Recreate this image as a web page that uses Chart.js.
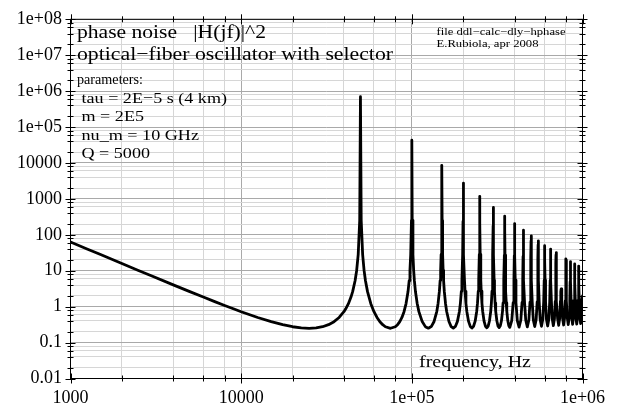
<!DOCTYPE html>
<html><head><meta charset="utf-8">
<script src="https://cdn.jsdelivr.net/npm/chart.js@4"></script>
<style>html,body{margin:0;padding:0;background:#fff}canvas{display:block}</style>
</head><body>
<canvas id="c" width="619" height="408"></canvas>
<script>
// ---- axis ticks ----
const xDecades = [1000, 10000, 100000, 1000000];
const xDecadeLabels = ['1000', '10000', '1e+05', '1e+06'];
const yDecades = [0.01, 0.1, 1, 10, 100, 1000, 10000, 1e5, 1e6, 1e7, 1e8];
const yDecadeLabels = ['0.01', '0.1', '1', '10', '100', '1000', '10000', '1e+05', '1e+06', '1e+07', '1e+08'];
const minorSteps = [2, 4, 6, 8];

// ---- |H(jf)|^2 ----
const baseFreq = [1000, 1250, 1500, 2000, 2500, 3000, 4000, 5000, 6000, 7000, 8000, 9000, 10000, 12500, 15000, 17500, 20000, 22500, 25000, 27500, 30000, 32500, 35000, 37500, 40000, 41000, 42500, 44000, 45000, 46500, 47500, 48500, 49500];
const baseH = [63.3, 40.5, 28.2, 15.9, 10.2, 7.12, 4.04, 2.62, 1.85, 1.38, 1.08, 0.871, 0.724, 0.5, 0.382, 0.315, 0.276, 0.256, 0.25, 0.256, 0.276, 0.315, 0.382, 0.5, 0.724, 0.871, 1.21, 1.85, 2.62, 5.25, 10.2, 28.2, 253];

const lowPeaksFreq = [
  50000, 50500, 51500, 52500, 53500, 55000, 57500, 60000, 62500, 65000, 67500, 70000, 75000,
  80000, 82500, 85000, 87500, 90000, 92500, 95000, 96500, 97500, 98500, 99500, 100000, 100500, 101500, 102500, 103500, 105000, 107500, 110000, 115000, 120000, 125000,
  130000, 135000, 140000, 142500, 145000, 146500, 147500, 148500, 149500, 150000, 150500, 151500, 152500, 153500, 155000, 157500, 160000, 165000, 170000, 175000,
  180000, 185000, 190000, 192500, 195000, 196500, 198500, 199500, 200000, 200500, 201500, 203500, 205000, 207500, 210000, 215000, 220000, 225000,
  230000, 235000, 240000, 242500, 245000, 246500, 248500, 249500, 250000, 250500, 251500, 253500, 255000, 257500, 260000, 265000, 270000, 275000,
  280000, 285000, 290000, 292500, 295000, 296500, 298500, 299500, 300000, 300500, 301500, 303500, 305000, 307500, 310000, 315000, 320000, 325000,
  330000, 335000, 340000, 342500, 345000, 346500, 348500, 349500, 350000, 350500, 351500, 353500, 355000, 357500, 360000, 365000, 370000, 375000
];
const lowPeaksH = [
  700000, 253, 28.2, 10.2, 5.25, 2.62, 1.21, 0.724, 0.5, 0.382, 0.315, 0.276, 0.25,
  0.276, 0.315, 0.382, 0.5, 0.726, 1.22, 2.63, 5.28, 10.2, 28.3, 253, 43000, 253, 28.3, 10.2, 5.28, 2.63, 1.22, 0.726, 0.384, 0.278, 0.252,
  0.279, 0.387, 0.731, 1.23, 2.65, 5.31, 10.3, 28.4, 248, 8600, 248, 28.4, 10.3, 5.31, 2.65, 1.23, 0.731, 0.387, 0.279, 0.253,
  0.282, 0.389, 0.738, 1.24, 2.67, 5.34, 28.4, 235, 2750, 235, 28.4, 5.34, 2.67, 1.24, 0.738, 0.389, 0.282, 0.255,
  0.285, 0.394, 0.746, 1.25, 2.69, 5.39, 28.3, 212, 1180, 212, 28.3, 5.39, 2.69, 1.25, 0.746, 0.394, 0.285, 0.258,
  0.288, 0.399, 0.754, 1.26, 2.72, 5.43, 28.0, 180, 580, 180, 28.0, 5.43, 2.72, 1.26, 0.754, 0.399, 0.288, 0.261,
  0.293, 0.404, 0.765, 1.28, 2.75, 5.47, 27.3, 145, 330, 145, 27.3, 5.47, 2.75, 1.28, 0.765, 0.404, 0.293, 0.265
];

const highPeaksFreq = [
  385000, 392500, 396500, 398500, 399500, 400000, 400500, 401500, 403500, 407500, 415000, 425000,
  435000, 442500, 446500, 448500, 449500, 450000, 450500, 451500, 453500, 457500, 465000, 475000,
  485000, 492500, 496500, 498500, 499500, 500000, 500500, 501500, 503500, 507500, 515000, 525000,
  535000, 542500, 546500, 548500, 549500, 550000, 550500, 551500, 553500, 557500, 565000, 575000,
  585000, 592500, 596500, 598500, 599500, 600000, 600500, 601500, 603500, 607500, 615000, 625000,
  635000, 642500, 646500, 648500, 649500, 650000, 650500, 651500, 653500, 657500, 665000, 675000,
  685000, 692500, 696500, 698500, 699500, 700000, 700500, 701500, 703500, 707500, 715000, 725000,
  735000, 742500, 746000, 750000, 754000, 757500, 765000, 775000,
  785000, 792500, 796500, 798500, 799500, 800000, 800500, 801500, 803500, 807500, 815000, 825000,
  835000, 842500, 846500, 848500, 849500, 850000, 850500, 851500, 853500, 857500, 865000, 875000,
  885000, 892500, 896500, 898500, 899500, 900000, 900500, 901500, 903500, 907500, 915000, 925000,
  935000, 942500, 946500, 948500, 949500, 950000, 950500, 951500, 953500, 957500, 965000, 975000,
  985000, 992500, 1000000
];
const highPeaksH = [
  0.41, 1.30, 5.50, 26.3, 114, 205, 114, 26.3, 5.50, 1.30, 0.41, 0.269,
  0.418, 1.32, 5.51, 25.0, 88, 135, 88, 25.0, 5.51, 1.32, 0.418, 0.274,
  0.425, 1.34, 5.51, 23.3, 68, 94, 68, 23.3, 5.51, 1.34, 0.425, 0.279,
  0.433, 1.36, 5.49, 21.6, 53, 68, 53, 21.6, 5.49, 1.36, 0.433, 0.284,
  0.44, 1.38, 5.45, 19.7, 42, 50, 42, 19.7, 5.45, 1.38, 0.44, 0.29,
  0.45, 1.39, 5.39, 17.9, 34, 40, 34, 17.9, 5.39, 1.39, 0.45, 0.296,
  0.459, 1.41, 5.3, 16.2, 27.8, 32, 27.8, 16.2, 5.3, 1.41, 0.459, 0.302,
  0.469, 1.43, 2.6, 3.1, 2.6, 1.43, 0.469, 0.309,
  0.478, 1.45, 5.09, 13.2, 19.6, 21.5, 19.6, 13.2, 5.09, 1.45, 0.478, 0.315,
  0.487, 1.46, 4.96, 11.9, 16.7, 18, 16.7, 11.9, 4.96, 1.46, 0.487, 0.322,
  0.497, 1.47, 4.82, 10.8, 14.5, 15.5, 14.5, 10.8, 4.82, 1.47, 0.497, 0.329,
  0.507, 1.49, 4.68, 9.87, 12.7, 13.5, 12.7, 9.87, 4.68, 1.49, 0.507, 0.336,
  0.517, 1.5, 2.0
];

// ---- annotation texts ----
const titleLines = ['phase noise   |H(jf)|^2', 'optical\u2212fiber oscillator with selector'];
const paramLines = ['parameters:', ' tau = 2E\u22125 s (4 km)', ' m = 2E5', ' nu_m = 10 GHz', ' Q = 5000'];
const fileLines = ['file ddl\u2212calc\u2212dly\u2212hphase', 'E.Rubiola, apr 2008'];
const xAxisTitle = 'frequency, Hz';

// ---- build ----
const freq = baseFreq.concat(lowPeaksFreq, highPeaksFreq);
const mag = baseH.concat(lowPeaksH, highPeaksH);
const points = freq.map((f, i) => ({ x: f, y: mag[i] }));

function withMinor(decades, steps, maxV) {
  const out = [];
  decades.forEach(d => { out.push(d); steps.forEach(s => { if (d * s < maxV) out.push(d * s); }); });
  return out;
}
const xTicks = withMinor(xDecades, minorSteps, 1e6);
const yTicks = withMinor(yDecades, minorSteps, 1e8);
function decadeIndex(v, decades) { return decades.findIndex(d => Math.abs(d - v) / d < 1e-9); }

const SERIF = '"Liberation Serif", "Times New Roman", serif';
const MAJOR_GRID = '#a9a9a9', MINOR_GRID = '#d6d6d6';

function fitText(ctx, text, x, y, size, targetW) {
  ctx.font = size + 'px ' + SERIF;
  const w = ctx.measureText(text).width;
  ctx.save();
  ctx.translate(x, y);
  ctx.scale(targetW / w, 1);
  ctx.fillText(text, 0, 0);
  ctx.restore();
}

const decor = {
  id: 'decor',
  afterDraw(chart) {
    const ctx = chart.ctx, a = chart.chartArea;
    const xs = chart.scales.x, ys = chart.scales.y;
    ctx.save();
    ctx.strokeStyle = '#000';
    ctx.lineWidth = 1;
    ctx.beginPath();
    xTicks.forEach(v => {
      const p = Math.round(xs.getPixelForValue(v)) + 0.5;
      const L = decadeIndex(v, xDecades) >= 0 ? 5 : 3;
      ctx.moveTo(p, a.bottom - L); ctx.lineTo(p, a.bottom + L);
      ctx.moveTo(p, a.top - L); ctx.lineTo(p, a.top + L);
    });
    yTicks.forEach(v => {
      const p = Math.round(ys.getPixelForValue(v)) + 0.5;
      const L = decadeIndex(v, yDecades) >= 0 ? 5 : 3;
      ctx.moveTo(a.left - L, p); ctx.lineTo(a.left + L, p);
      ctx.moveTo(a.right - L, p); ctx.lineTo(a.right + L, p);
    });
    ctx.stroke();
    ctx.strokeRect(a.left, a.top, a.right - a.left, a.bottom - a.top);

    ctx.fillStyle = '#000';
    ctx.textBaseline = 'alphabetic';
    ctx.textAlign = 'left';
    fitText(ctx, titleLines[0], 77, 38, 19, 189);
    fitText(ctx, titleLines[1], 77, 60, 19, 316);
    const pW = [66, 150, 67, 122, 73];
    const pY = [84.3, 102.8, 121.3, 139.8, 158.3];
    paramLines.forEach((t, i) => fitText(ctx, t, 77, pY[i], 15.5, pW[i]));
    fitText(ctx, fileLines[0], 436.5, 34.5, 11, 129);
    fitText(ctx, fileLines[1], 436.5, 46.5, 11, 102);
    fitText(ctx, xAxisTitle, 419, 367, 17, 112);
    ctx.restore();
  }
};

new Chart(document.getElementById('c'), {
  type: 'scatter',
  data: { datasets: [{
    data: points, showLine: true, borderColor: '#000', backgroundColor: '#000',
    borderWidth: 2.8, pointRadius: 0, tension: 0, fill: false,
    borderJoinStyle: 'round', borderCapStyle: 'round'
  }] },
  options: {
    responsive: false, animation: false, devicePixelRatio: 1, events: [],
    layout: { padding: { top: 14.5, right: 36.5, left: 0, bottom: 0 } },
    plugins: { legend: { display: false }, tooltip: { enabled: false } },
    scales: {
      x: {
        type: 'logarithmic', min: 1000, max: 1e6,
        afterBuildTicks: s => { s.ticks = xTicks.map(v => ({ value: v })); },
        afterFit: s => { s.height = 29.5; },
        border: { display: false },
        grid: { drawTicks: false, lineWidth: 1,
          color: c => (c.tick && decadeIndex(c.tick.value, xDecades) >= 0) ? MAJOR_GRID : MINOR_GRID },
        ticks: { autoSkip: false, maxRotation: 0, minRotation: 0, padding: 8.5, color: '#000',
          font: { family: SERIF, size: 18 },
          callback: v => { const i = decadeIndex(v, xDecades); return i >= 0 ? xDecadeLabels[i] : ''; } }
      },
      y: {
        type: 'logarithmic', min: 0.01, max: 1e8,
        afterBuildTicks: s => { s.ticks = yTicks.map(v => ({ value: v })); },
        afterFit: s => { s.width = 70.5; },
        border: { display: false },
        grid: { drawTicks: false, lineWidth: 1,
          color: c => (c.tick && decadeIndex(c.tick.value, yDecades) >= 0) ? MAJOR_GRID : MINOR_GRID },
        ticks: { autoSkip: false, padding: 8.5, color: '#000',
          font: { family: SERIF, size: 18 },
          callback: v => { const i = decadeIndex(v, yDecades); return i >= 0 ? yDecadeLabels[i] : ''; } }
      }
    }
  },
  plugins: [decor]
});
</script>
</body></html>
